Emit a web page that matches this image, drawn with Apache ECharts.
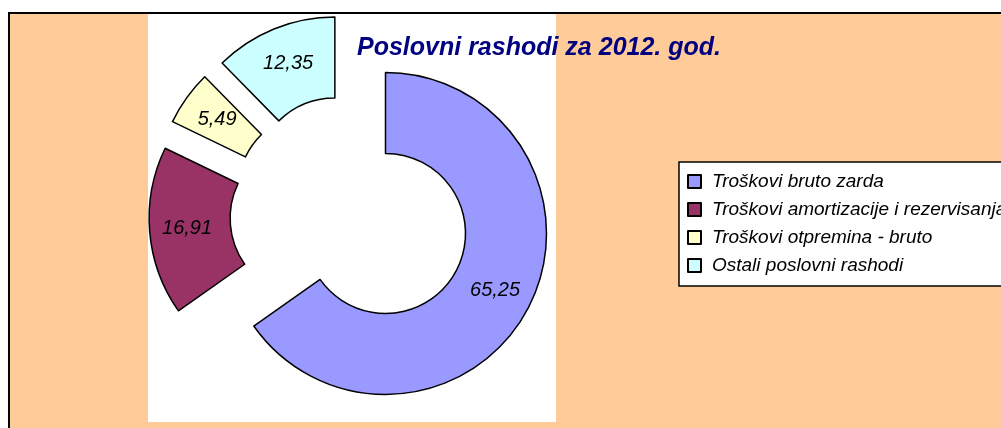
<!DOCTYPE html>
<html lang="sr">
<head>
  <meta charset="UTF-8">
  <title>Poslovni rashodi za 2012. god.</title>
  <script src="https://cdn.jsdelivr.net/npm/echarts@6/dist/echarts.min.js"></script>
  <style>
    html, body { margin: 0; padding: 0; background: #fff; }
    #main { width: 1001px; height: 428px; }
  </style>
</head>
<body>

<div id="main"></div>

<script>
  var categories = [
    'Troškovi bruto zarda',
    'Troškovi amortizacije i rezervisanja',
    'Troškovi otpremina - bruto',
    'Ostali poslovni rashodi'
  ];
  var values = [65.25, 16.91, 5.49, 12.35];
  var colors = ['#9999FF', '#993366', '#FFFFCC', '#CCFFFF'];

  var font = "'Liberation Sans', Arial, sans-serif";

  var data = categories.map(function (name, i) {
    return { name: name, value: values[i], selected: true, itemStyle: { color: colors[i] } };
  });

  var chart = echarts.init(document.getElementById('main'));
  chart.setOption({
    animation: false,
    backgroundColor: '#ffffff',
    graphic: [
      {
        type: 'rect', z: -10, silent: true,
        shape: { x: 9, y: 13, width: 1010, height: 440 },
        style: { fill: '#FFCC99', stroke: '#000', lineWidth: 2 }
      },
      {
        type: 'rect', z: -9, silent: true,
        shape: { x: 148, y: 14, width: 408, height: 408 },
        style: { fill: '#ffffff' }
      }
    ],
    title: {
      text: 'Poslovni rashodi za 2012. god.',
      left: 357,
      top: 36,
      padding: 0,
      textStyle: {
        fontFamily: font,
        fontSize: 25,
        fontWeight: 'bold',
        fontStyle: 'italic',
        color: '#000080'
      }
    },
    legend: {
      orient: 'vertical',
      left: 679,
      top: 162,
      padding: [10, 12, 11, 8],
      itemWidth: 13,
      itemHeight: 13,
      itemGap: 9,
      icon: 'rect',
      selectedMode: false,
      backgroundColor: '#ffffff',
      borderColor: '#000',
      borderWidth: 1.5,
      borderRadius: 0,
      textStyle: {
        fontFamily: font,
        fontSize: 19,
        lineHeight: 19,
        fontStyle: 'italic',
        color: '#000',
        padding: [0, 0, 0, 6]
      },
      data: categories
    },
    series: [
      {
        name: 'Poslovni rashodi',
        type: 'pie',
        center: [350, 215],
        radius: [80, 161],
        startAngle: 90,
        clockwise: true,
        selectedMode: 'multiple',
        selectedOffset: 40,
        avoidLabelOverlap: false,
        itemStyle: { borderColor: '#000', borderWidth: 1.5 },
        emphasis: { disabled: true },
        label: {
          show: true,
          position: 'inside',
          fontFamily: font,
          fontSize: 20,
          fontStyle: 'italic',
          color: '#000',
          formatter: function (p) {
            return p.value.toFixed(2).replace('.', ',');
          }
        },
        labelLine: { show: false },
        data: data
      }
    ]
  });
</script>
</body>
</html>
